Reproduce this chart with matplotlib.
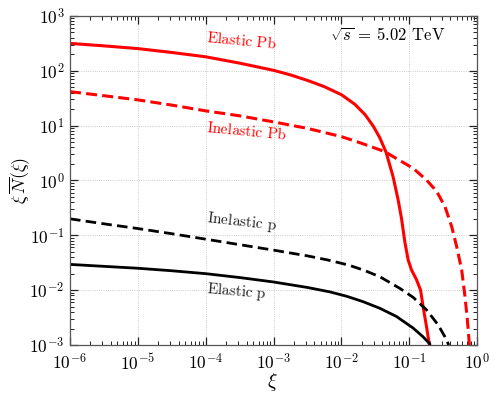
import math
import matplotlib
matplotlib.use("Agg")
import matplotlib.pyplot as plt
from matplotlib.ticker import FixedLocator, FuncFormatter, NullFormatter

plt.rcParams['mathtext.fontset'] = 'cm'
plt.rcParams['font.family'] = 'serif'
plt.rcParams['font.serif'] = ['cmr10', 'DejaVu Serif']
plt.rcParams['axes.unicode_minus'] = False

# ---- data ----
el_pb_x = [1e-6, 3.16e-6, 1e-5, 3.16e-5, 1e-4, 3.16e-4, 1e-3, 1.78e-3, 3.16e-3, 5.62e-3,
           1e-2, 1.58e-2, 2.24e-2, 2.95e-2, 3.68e-2, 4.57e-2, 5.78e-2, 6.85e-2, 7.69e-2,
           8.61e-2, 9.64e-2, 0.108, 0.128, 0.147, 0.160, 0.180, 0.197, 0.200]
el_pb_y = [316, 285, 254, 216, 180, 138, 102, 84.1, 66.8, 51.3,
           36.7, 24.5, 15.8, 9.77, 6.03, 3.24, 1.17, 0.447, 0.204,
           0.0759, 0.0355, 0.0234, 0.0155, 0.0100, 0.0050, 0.00214, 0.00105, 0.00089]

inel_pb_x = [1e-6, 3.16e-6, 1e-5, 3.16e-5, 1e-4, 3.16e-4, 1e-3, 3.16e-3, 1e-2, 1.86e-2,
             3.68e-2, 4.57e-2, 6.49e-2, 0.114, 0.180, 0.254, 0.336, 0.422, 0.501,
             0.593, 0.664, 0.719, 0.769, 0.776]
inel_pb_y = [41.7, 35.1, 29.5, 23.7, 18.6, 15.1, 11.7, 8.91, 6.31, 4.90,
             3.63, 3.24, 2.51, 1.67, 1.02, 0.631, 0.334, 0.145, 0.0617,
             0.0234, 0.00759, 0.00288, 0.00105, 0.00089]

inel_p_x = [1e-6, 3.16e-6, 1e-5, 3.16e-5, 1e-4, 3.16e-4, 1e-3, 3.16e-3, 6.31e-3, 1.26e-2,
            2.09e-2, 3.68e-2, 7.26e-2, 0.114, 0.180, 0.267, 0.336, 0.376, 0.380]
inel_p_y = [0.200, 0.162, 0.133, 0.107, 0.0851, 0.0676, 0.0537, 0.0422, 0.0355, 0.0288,
            0.0234, 0.0176, 0.0108, 0.00741, 0.00437, 0.00232, 0.00141, 0.00105, 0.00089]

el_p_x = [1e-6, 3.16e-6, 1e-5, 3.16e-5, 1e-4, 3.16e-4, 1e-3, 3.16e-3, 6.70e-3, 1.19e-2,
          2.09e-2, 3.68e-2, 6.49e-2, 0.114, 0.160, 0.201, 0.204]
el_p_y = [0.0295, 0.0272, 0.0251, 0.0226, 0.0200, 0.0170, 0.0141, 0.0112, 0.00933, 0.00776,
          0.00617, 0.00468, 0.00331, 0.00204, 0.00141, 0.00105, 0.00089]

x_decades = [1e-6, 1e-5, 1e-4, 1e-3, 1e-2, 1e-1, 1e0]
y_decades = [1e-3, 1e-2, 1e-1, 1e0, 1e1, 1e2, 1e3]

labels = ['Elastic Pb', 'Inelastic Pb', 'Inelastic p', 'Elastic p']
energy_label = r'$\sqrt{s}$ = 5.02 TeV'

fig = plt.figure(figsize=(4.98, 3.99), dpi=100)
ax = fig.add_axes([0.1406, 0.1353, 0.8174, 0.8247])

ax.plot(el_pb_x, el_pb_y, color='red', lw=2.2)
ax.plot(inel_pb_x, inel_pb_y, color='red', lw=2.2, dashes=(3.6, 1.7))
ax.plot(inel_p_x, inel_p_y, color='black', lw=2.0, dashes=(3.8, 1.9))
ax.plot(el_p_x, el_p_y, color='black', lw=2.0)

ax.set_xscale('log')
ax.set_yscale('log')
ax.set_xlim(x_decades[0], x_decades[-1])
ax.set_ylim(y_decades[0], y_decades[-1])

fmt = FuncFormatter(lambda v, p: r'$10^{%d}$' % round(math.log10(v)))
minor_x = [m * d for d in x_decades[:-1] for m in range(2, 10)]
minor_y = [m * d for d in y_decades[:-1] for m in range(2, 10)]
ax.xaxis.set_major_locator(FixedLocator(x_decades))
ax.yaxis.set_major_locator(FixedLocator(y_decades))
ax.xaxis.set_minor_locator(FixedLocator(minor_x))
ax.yaxis.set_minor_locator(FixedLocator(minor_y))
ax.xaxis.set_major_formatter(fmt)
ax.yaxis.set_major_formatter(fmt)
ax.xaxis.set_minor_formatter(NullFormatter())
ax.yaxis.set_minor_formatter(NullFormatter())

ax.tick_params(which='both', direction='in', top=True, right=True, labelsize=12.5,
               color='#222222')
ax.tick_params(which='major', length=5.5, width=0.9)
ax.tick_params(which='minor', length=2.8, width=0.7)
ax.tick_params(axis='x', which='major', pad=5)
ax.tick_params(axis='y', which='major', pad=4)
for s in ax.spines.values():
    s.set_color('#555555')
    s.set_linewidth(0.9)

ax.grid(True, which='major', ls=':', lw=0.6, color='#bbbbbb')

ax.set_xlabel(r'$\xi$', fontsize=14)
ax.xaxis.set_label_coords(0.4975, -0.08)
ax.set_ylabel(r'$\xi\,\overline{N}(\xi)$', fontsize=13)
ax.yaxis.set_label_coords(-0.092, 0.5)

def tex(s):
    return r'$\mathrm{%s}$' % s.replace(' ', r'\ ')

ax.text(1.05e-4, 417, tex(labels[0]), color='red',
        fontsize=11, rotation=-5.5, rotation_mode='anchor', ha='left', va='center')
ax.text(1.05e-4, 9.5, tex(labels[1]), color='red',
        fontsize=11, rotation=-5.5, rotation_mode='anchor', ha='left', va='center')
ax.text(1.05e-4, 0.204, tex(labels[2]), color='#222222',
        fontsize=11, rotation=-6.5, rotation_mode='anchor', ha='left', va='center')
ax.text(1.05e-4, 0.0107, tex(labels[3]), color='#222222',
        fontsize=11, rotation=-5, rotation_mode='anchor', ha='left', va='center')
ax.text(0.639, 0.942, energy_label, transform=ax.transAxes, fontsize=12,
        ha='left', va='center')

fig.savefig('out.png', dpi=100)
